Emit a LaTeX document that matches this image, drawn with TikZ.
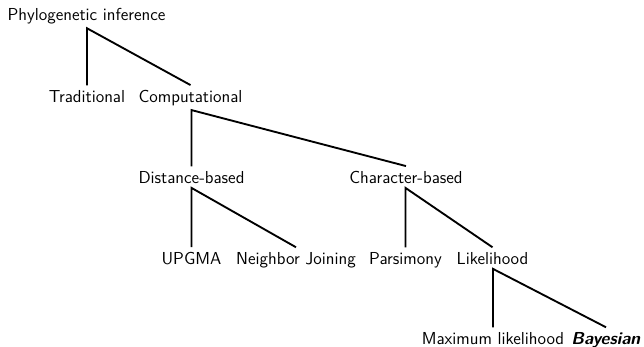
\documentclass[tikz,border=0pt]{standalone}
\begin{document}
\begin{tikzpicture}[x=0.75pt,y=-0.75pt,
  lbl/.style={anchor=base,font=\sffamily\fontsize{13}{15}\selectfont},
  edge/.style={draw=black,line width=1.4pt}]
\useasboundingbox (0,0) rectangle (644,347);
\node[lbl] (phy) at (86.5,20) {Phylogenetic inference};
\node[lbl] (trad) at (87,102) {Traditional};
\node[lbl] (comp) at (190.5,102) {Computational};
\node[lbl] (dist) at (191.5,183) {Distance-based};
\node[lbl] (char) at (406,183) {Character-based};
\node[lbl] (upgma) at (191.5,264) {UPGMA};
\node[lbl] (nj) at (296,264) {Neighbor Joining};
\node[lbl] (pars) at (405.5,264) {Parsimony};
\node[lbl] (lik) at (492.5,264) {Likelihood};
\node[lbl] (maxl) at (493,344) {Maximum likelihood};
\node[lbl] (bayes) at (606,344) {\textbf{\textit{Bayesian}}};
\draw[edge] (trad.north) -- (trad.north |- phy.south) -- (comp.north);
\draw[edge] (dist.north) -- (dist.north |- comp.south) -- (char.north);
\draw[edge] (upgma.north) -- (upgma.north |- dist.south) -- (nj.north);
\draw[edge] (pars.north) -- (pars.north |- char.south) -- (lik.north);
\draw[edge] (maxl.north) -- (maxl.north |- lik.south) -- (bayes.north);
\end{tikzpicture}
\end{document}
